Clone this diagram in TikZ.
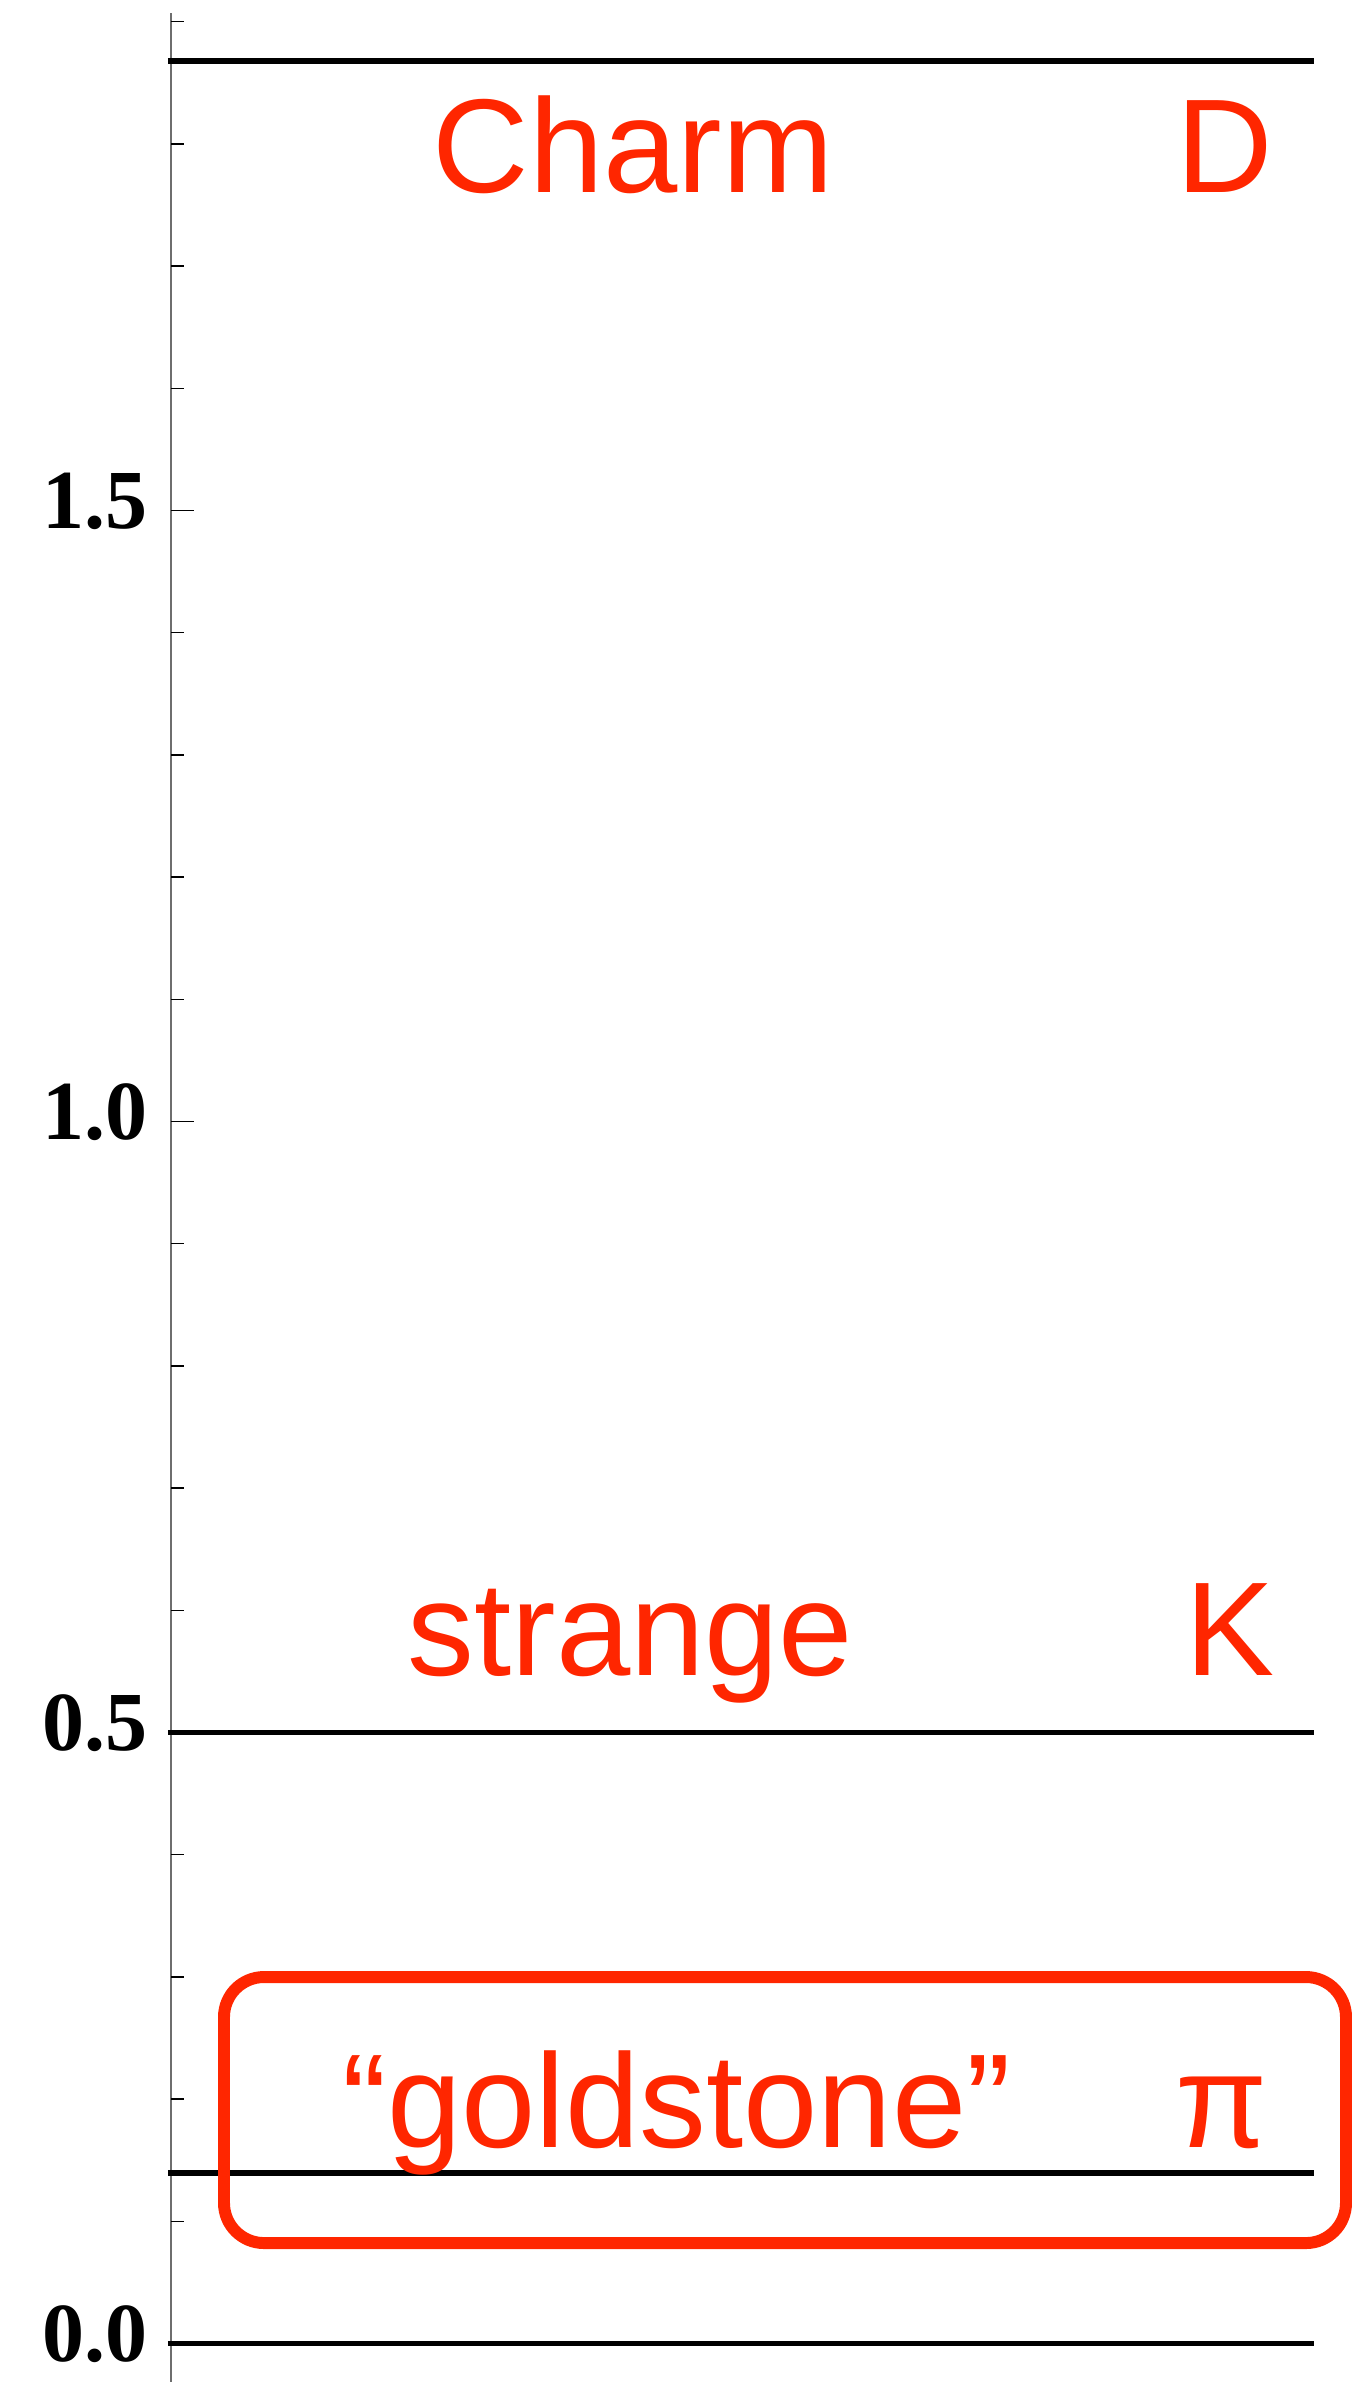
\documentclass[tikz,border=0pt]{standalone}
\usepackage{fontspec}
\setmainfont{Liberation Sans}
\newfontfamily\ticklabelfont{Liberation Serif}
\usepackage{xcolor}
\usepackage{tikz}

\definecolor{levelred}{RGB}{255,38,0}
\definecolor{axisgray}{RGB}{110,110,110}

\tikzset{
  level/.style={line width=1.7pt, black},
  levelname/.style={text=levelred, inner sep=0pt, font=\fontsize{38pt}{40pt}\selectfont},
  ticklabel/.style={inner sep=0pt, anchor=base east, font=\ticklabelfont\bfseries\fontsize{23.9pt}{26pt}\selectfont}
}

\begin{document}
\begin{tikzpicture}[x=1cm, y=12.22cm]
\useasboundingbox (0,-0.0315) rectangle (13.58,1.9178);

% Axis
\draw[axisgray, line width=0.6pt] (1.71,-0.0315) -- (1.71,1.907);
\foreach \v in {0.1,0.2,0.3,0.4,0.6,0.7,0.8,0.9,1.1,1.2,1.3,1.4,1.6,1.7,1.8,1.9}
  \draw[black, line width=0.4pt] (1.71,\v) -- (1.84,\v);
\foreach \v in {0.0,0.5,1.0,1.5}
  \draw[black, line width=0.4pt] (1.71,\v) -- (1.94,\v);

% Tick labels
\node[ticklabel] (t00) at (1.48,-0.0147) {0.0};
\node[ticklabel] (t05) at (1.48,0.4853) {0.5};
\node[ticklabel] (t10) at (1.48,0.9853) {1.0};
\node[ticklabel] (t15) at (1.48,1.4853) {1.5};

% Levels
\draw[level] (1.68,0) -- (13.14,0);
\draw[level] (1.68,0.1396) -- (13.14,0.1396);
\draw[level] (1.68,0.5) -- (13.14,0.5);
\draw[level] (1.68,1.868) -- (13.14,1.868);

% Names
\node[levelname, anchor=base west] (charm) at (4.32,1.7606) {Charm};
\node[levelname, anchor=base east] (dmeson) at (12.74,1.7606) {D};
\node[levelname, anchor=base west] (strange) at (4.07,0.547) {strange};
\node[levelname, anchor=base east] (kaon) at (12.75,0.547) {K};
\node[levelname, anchor=base west] (goldstone) at (3.42,0.16) {“goldstone”};
\node[levelname, anchor=base east] (pion) at (12.68,0.16) {π};

% Box round the pion
\draw[levelred, line width=3.4pt, rounded corners=0.4cm] (2.24,0.0822) rectangle (13.46,0.2999);
\end{tikzpicture}
\end{document}
